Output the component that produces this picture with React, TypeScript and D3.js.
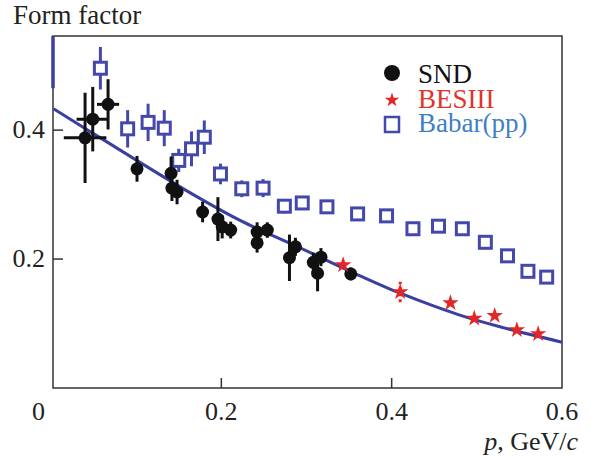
import { useEffect, useRef } from 'react';
import * as d3 from 'd3';

// SND points (black circles)
const sndX = [0.040, 0.049, 0.067, 0.101, 0.141, 0.142, 0.148, 0.178, 0.196, 0.201, 0.211, 0.242, 0.242, 0.254, 0.280, 0.287, 0.308, 0.317, 0.313, 0.352];
const sndY = [0.388, 0.417, 0.440, 0.340, 0.333, 0.310, 0.304, 0.273, 0.262, 0.250, 0.245, 0.242, 0.225, 0.245, 0.202, 0.219, 0.195, 0.203, 0.178, 0.177];
const sndYErr = [0.070, 0.050, 0.039, 0.020, 0.026, 0.020, 0.019, 0.016, 0.034, 0.018, 0.013, 0.015, 0.015, 0.012, 0.036, 0.014, 0.015, 0.014, 0.028, 0.010];
const sndXErr = [0.025, 0.019, 0.013, 0, 0, 0, 0, 0, 0, 0, 0, 0, 0, 0, 0, 0, 0, 0, 0, 0];

// BESIII points (red stars)
const besX = [0.343, 0.410, 0.469, 0.497, 0.521, 0.547, 0.572];
const besY = [0.191, 0.149, 0.132, 0.108, 0.112, 0.090, 0.084];
const besErr = [0, 0.016, 0, 0, 0, 0, 0];

// Babar (pp) points (open squares)
const babarX = [0.058, 0.090, 0.114, 0.133, 0.150, 0.165, 0.180, 0.199, 0.224, 0.249, 0.274, 0.295, 0.324, 0.360, 0.394, 0.425, 0.455, 0.483, 0.510, 0.536, 0.560, 0.582];
const babarY = [0.496, 0.402, 0.412, 0.403, 0.353, 0.371, 0.389, 0.332, 0.309, 0.310, 0.282, 0.287, 0.281, 0.270, 0.267, 0.247, 0.251, 0.247, 0.226, 0.205, 0.181, 0.172];
const babarErr = [0.033, 0.029, 0.029, 0.028, 0.018, 0.027, 0.026, 0.016, 0.013, 0.014, 0.011, 0.011, 0.010, 0.010, 0.010, 0.010, 0.010, 0.010, 0.010, 0.010, 0.010, 0.010];

// fit curve
const fitX = [0.003, 0.058, 0.158, 0.222, 0.293, 0.363, 0.410, 0.480, 0.527, 0.600];
const fitY = [0.433, 0.388, 0.307, 0.260, 0.217, 0.174, 0.147, 0.113, 0.095, 0.071];

// clipped bar on the left axis
const leftBar = [0.465, 0.546];

const xTicks = [0, 0.2, 0.4, 0.6];
const xTickLabels = ['0', '0.2', '0.4', '0.6'];
const yTicks = [0.2, 0.4];
const yTickLabels = ['0.2', '0.4'];

const legendNames = ['SND', 'BESIII', 'Babar(pp)'];
const legendColors = ['#111111', '#e0352b', '#3f7fc4'];

const W = 591;
const H = 457;
const FONT = '"Liberation Serif", "Times New Roman", serif';

export default function App() {
    const ref = useRef<SVGSVGElement | null>(null);

    useEffect(() => {
        const svg = d3.select(ref.current);
        svg.selectAll('*').remove();

        const left = 53, right = 562, top = 36, bottom = 388;

        const x = d3.scaleLinear().domain([0, 0.6]).range([51, 562]);
        const y = d3.scaleLinear().domain([0, 0.546]).range([bottom, top]);

        const blue = '#3b3f9f';
        const sqBlue = '#4448aa';
        const red = '#e32626';

        svg.append('rect')
            .attr('width', W).attr('height', H).attr('fill', 'white');

        // frame
        svg.append('rect')
            .attr('x', left).attr('y', top)
            .attr('width', right - left).attr('height', bottom - top)
            .attr('fill', 'none').attr('stroke', '#333').attr('stroke-width', 1.5);

        // ticks (inward)
        svg.selectAll('.ytick').data(yTicks).enter().append('line')
            .attr('x1', left).attr('x2', left + 10)
            .attr('y1', d => y(d)).attr('y2', d => y(d))
            .attr('stroke', '#333').attr('stroke-width', 1.5);
        svg.selectAll('.xtick').data(xTicks.filter(d => d > 0 && d < 0.6)).enter().append('line')
            .attr('x1', d => x(d)).attr('x2', d => x(d))
            .attr('y1', bottom).attr('y2', bottom - 10)
            .attr('stroke', '#333').attr('stroke-width', 1.5);

        // tick labels
        svg.selectAll('.ylab').data(yTicks).enter().append('text')
            .attr('x', 45).attr('y', d => y(d) + 8)
            .attr('text-anchor', 'end')
            .style('font-family', FONT).style('font-size', '26px').attr('fill', '#222')
            .text((d, i) => yTickLabels[i]);
        svg.selectAll('.xlab').data(xTicks).enter().append('text')
            .attr('x', d => d === 0 ? x(d) - 6 : x(d))
            .attr('y', 420)
            .attr('text-anchor', d => d === 0 ? 'end' : 'middle')
            .style('font-family', FONT).style('font-size', '26px').attr('fill', '#222')
            .text((d, i) => xTickLabels[i]);

        // titles
        svg.append('text')
            .attr('x', 13).attr('y', 24)
            .style('font-family', FONT).style('font-size', '27px').attr('fill', '#222')
            .text('Form factor');
        const xl = svg.append('text')
            .attr('x', 578).attr('y', 450).attr('text-anchor', 'end')
            .style('font-family', FONT).style('font-size', '26px').attr('fill', '#222');
        xl.append('tspan').style('font-style', 'italic').text('p');
        xl.append('tspan').text(', GeV/');
        xl.append('tspan').style('font-style', 'italic').text('c');

        // clipped bar on left axis
        svg.append('line')
            .attr('x1', left).attr('x2', left)
            .attr('y1', y(leftBar[0])).attr('y2', y(leftBar[1]))
            .attr('stroke', blue).attr('stroke-width', 3.5);

        // Babar error bars + squares
        const babar = babarX.map((d, i) => ({ x: d, y: babarY[i], e: babarErr[i] }));
        svg.selectAll('.bberr').data(babar).enter().append('line')
            .attr('x1', d => x(d.x)).attr('x2', d => x(d.x))
            .attr('y1', d => y(d.y - d.e)).attr('y2', d => y(d.y + d.e))
            .attr('stroke', sqBlue).attr('stroke-width', 3);
        svg.selectAll('.bbsq').data(babar).enter().append('rect')
            .attr('x', d => x(d.x) - 6).attr('y', d => y(d.y) - 6)
            .attr('width', 12).attr('height', 12)
            .attr('fill', 'white').attr('stroke', sqBlue).attr('stroke-width', 3);

        // fit line
        const fit = fitX.map((d, i) => [d, fitY[i]] as [number, number]);
        svg.append('path')
            .datum(fit)
            .attr('fill', 'none').attr('stroke', blue).attr('stroke-width', 3)
            .attr('d', d3.line<[number, number]>()
                .x(d => x(d[0]))
                .y(d => y(d[1]))
                .curve(d3.curveCatmullRom));

        // SND
        const snd = sndX.map((d, i) => ({ x: d, y: sndY[i], ey: sndYErr[i], ex: sndXErr[i] }));
        svg.selectAll('.sndey').data(snd).enter().append('line')
            .attr('x1', d => x(d.x)).attr('x2', d => x(d.x))
            .attr('y1', d => y(d.y - d.ey)).attr('y2', d => y(d.y + d.ey))
            .attr('stroke', '#111').attr('stroke-width', 3);
        svg.selectAll('.sndex').data(snd.filter(d => d.ex > 0)).enter().append('line')
            .attr('x1', d => x(d.x - d.ex)).attr('x2', d => x(d.x + d.ex))
            .attr('y1', d => y(d.y)).attr('y2', d => y(d.y))
            .attr('stroke', '#111').attr('stroke-width', 3);
        svg.selectAll('.snddot').data(snd).enter().append('circle')
            .attr('cx', d => x(d.x)).attr('cy', d => y(d.y)).attr('r', 6.5)
            .attr('fill', '#111');

        // BESIII
        const bes = besX.map((d, i) => ({ x: d, y: besY[i], e: besErr[i] }));
        svg.selectAll('.beserr').data(bes.filter(d => d.e > 0)).enter().append('line')
            .attr('x1', d => x(d.x)).attr('x2', d => x(d.x))
            .attr('y1', d => y(d.y - d.e)).attr('y2', d => y(d.y + d.e))
            .attr('stroke', red).attr('stroke-width', 3).attr('stroke-dasharray', '3,3');
        const star = d3.symbol().type(d3.symbolStar).size(85);
        svg.selectAll('.besstar').data(bes).enter().append('path')
            .attr('transform', d => `translate(${x(d.x)},${y(d.y)})`)
            .attr('d', star() as string)
            .attr('fill', red);

        // legend
        const lg = svg.append('g');
        lg.append('circle').attr('cx', 392).attr('cy', 73).attr('r', 8).attr('fill', '#111');
        lg.append('path').attr('transform', 'translate(392,100)')
            .attr('d', d3.symbol().type(d3.symbolStar).size(65)() as string)
            .attr('fill', red);
        lg.append('rect').attr('x', 385).attr('y', 117).attr('width', 14).attr('height', 15)
            .attr('fill', 'white').attr('stroke', sqBlue).attr('stroke-width', 2.5);
        lg.selectAll('.lgtext').data(legendNames).enter().append('text')
            .attr('x', 418).attr('y', (d, i) => 83 + i * 24.5)
            .style('font-family', FONT).style('font-size', '27px')
            .attr('fill', (d, i) => legendColors[i])
            .text(d => d);
    }, []);

    return (
        <div style={{ position: 'absolute', left: 0, top: 0 }}>
            <svg ref={ref} width={W} height={H} style={{ display: 'block' }}></svg>
        </div>
    );
}
